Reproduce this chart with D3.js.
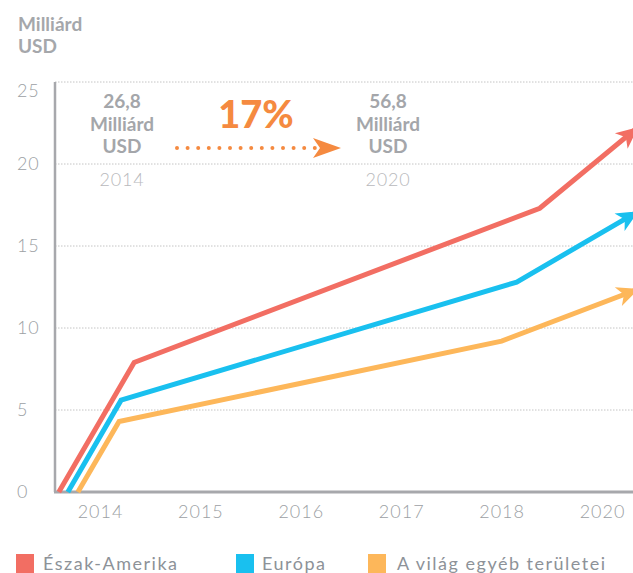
<!DOCTYPE html>
<html>
<head>
<meta charset="utf-8">
<script src="https://cdn.jsdelivr.net/npm/d3@7/dist/d3.min.js"></script>
<style>
  body { margin: 0; background: #fff; }
  text { font-family: Lato, "Open Sans", sans-serif; }
</style>
</head>
<body>
<script>
// tick labels
var yearLabels = ["2014", "2015", "2016", "2017", "2018", "2020"];
var yTicks = [0, 5, 10, 15, 20, 25];

// series: x in tick-index units, y in Milliárd USD
var seriesNames = ["Észak-Amerika", "Európa", "A világ egyéb területei"];
var seriesColors = ["#f26e63", "#19c0ef", "#fdb75a"];
var northAmerica = [[-0.41, 0], [0.34, 7.9], [4.38, 17.3], [5.33, 22.1]];
var europe = [[-0.32, 0], [0.21, 5.6], [4.15, 12.8], [5.33, 17.0]];
var restOfWorld = [[-0.22, 0], [0.19, 4.3], [4.0, 9.2], [5.33, 12.3]];
var allSeries = [northAmerica, europe, restOfWorld];

var width = 633, height = 573;
var svg = d3.select("body").append("svg")
  .attr("width", width)
  .attr("height", height);

var x = d3.scaleLinear().domain([0, 5]).range([100, 602]);
var y = d3.scaleLinear().domain([0, 25]).range([492, 82]);
var axisX = 55;

var gray = "#9c9fa4";

// unit title
svg.append("text").attr("x", 18).attr("y", 31)
  .attr("font-size", 19).attr("font-weight", 700).attr("fill", "#a5a7ab")
  .text("Milliárd");
svg.append("text").attr("x", 18).attr("y", 53)
  .attr("font-size", 19).attr("font-weight", 700).attr("fill", "#a5a7ab")
  .text("USD");

// gridlines
svg.append("g").selectAll("line")
  .data(yTicks.slice(1))
  .enter().append("line")
  .attr("x1", axisX).attr("x2", width)
  .attr("y1", function(d) { return y(d); })
  .attr("y2", function(d) { return y(d); })
  .attr("stroke", "#c4c4c4")
  .attr("stroke-width", 1)
  .attr("stroke-dasharray", "1.5 1.5");

// y axis
var yAxis = svg.append("g")
  .attr("transform", "translate(" + axisX + ",0)")
  .call(d3.axisLeft(y).tickValues(yTicks).tickSize(0).tickPadding(0));
yAxis.select(".domain").remove();
yAxis.selectAll("text")
  .attr("x", -38)
  .attr("text-anchor", "start")
  .attr("font-size", 18)
  .attr("font-weight", 300)
  .attr("letter-spacing", 0.8)
  .attr("fill", gray)
  .style("font-family", "Lato, sans-serif");
// top label sits a little below its gridline
yAxis.selectAll(".tick").filter(function(d) { return d === 25; })
  .select("text").attr("y", 9);
svg.append("line")
  .attr("x1", axisX).attr("x2", axisX)
  .attr("y1", y(25)).attr("y2", y(0))
  .attr("stroke", "#a7a8ac").attr("stroke-width", 2.5);

// x axis
var xAxis = svg.append("g")
  .attr("transform", "translate(0," + y(0) + ")")
  .call(d3.axisBottom(x).tickValues(d3.range(yearLabels.length))
    .tickFormat(function(d) { return yearLabels[d]; })
    .tickSize(0).tickPadding(13));
xAxis.select(".domain").remove();
xAxis.selectAll("text")
  .attr("font-size", 18)
  .attr("font-weight", 300)
  .attr("fill", gray)
  .attr("letter-spacing", 1)
  .style("font-family", "Lato, sans-serif");
svg.append("line")
  .attr("x1", axisX - 1).attr("x2", width)
  .attr("y1", y(0)).attr("y2", y(0))
  .attr("stroke", "#a7a8ac").attr("stroke-width", 3);

// arrow markers
var defs = svg.append("defs");
seriesColors.forEach(function(c, i) {
  defs.append("marker")
    .attr("id", "arrow" + i)
    .attr("viewBox", "-22 -12 26 24")
    .attr("refX", -2).attr("refY", 0)
    .attr("markerUnits", "userSpaceOnUse")
    .attr("markerWidth", 26).attr("markerHeight", 24)
    .attr("orient", "auto")
    .append("path")
    .attr("d", "M2,0 L-20,-10 L-14,0 L-20,10 Z")
    .attr("fill", c);
});

var line = d3.line()
  .x(function(d) { return x(d[0]); })
  .y(function(d) { return y(d[1]); });

svg.append("g").selectAll("path")
  .data(allSeries)
  .enter().append("path")
  .attr("d", line)
  .attr("fill", "none")
  .attr("stroke", function(d, i) { return seriesColors[i]; })
  .attr("stroke-width", 5)
  .attr("stroke-linejoin", "miter")
  .attr("marker-end", function(d, i) { return "url(#arrow" + i + ")"; });

// growth annotation
var annoGray = "#a4a6aa";
function valueBlock(cx, lines, yearText) {
  lines.forEach(function(t, i) {
    svg.append("text")
      .attr("x", cx).attr("y", 108 + i * 22.5)
      .attr("text-anchor", "middle")
      .attr("font-size", 19).attr("font-weight", 700)
      .attr("fill", annoGray)
      .text(t);
  });
  svg.append("text")
    .attr("x", cx).attr("y", 186)
    .attr("text-anchor", "middle")
    .attr("font-size", 18).attr("font-weight", 300)
    .attr("letter-spacing", 0.8)
    .attr("fill", "#b8b9bc")
    .text(yearText);
}
valueBlock(122, ["26,8", "Milliárd", "USD"], "2014");
valueBlock(388, ["56,8", "Milliárd", "USD"], "2020");

svg.append("text")
  .attr("x", 256).attr("y", 128)
  .attr("text-anchor", "middle")
  .attr("font-size", 38).attr("font-weight", 900)
  .attr("fill", "#f58a40")
  .text("17%");

svg.append("line")
  .attr("x1", 177).attr("x2", 318)
  .attr("y1", 148).attr("y2", 148)
  .attr("stroke", "#f58a40").attr("stroke-width", 4)
  .attr("stroke-linecap", "round")
  .attr("stroke-dasharray", "0 10.6");
svg.append("path")
  .attr("d", "M341,148 L313,138 L320,148 L313,158 Z")
  .attr("fill", "#f58a40");

// legend
var legend = svg.append("g").selectAll("g")
  .data(seriesNames)
  .enter().append("g")
  .attr("transform", function(d, i) { return "translate(" + [16, 236, 368][i] + ",554)"; });
legend.append("rect")
  .attr("width", 18).attr("height", 19)
  .attr("fill", function(d, i) { return seriesColors[i]; });
legend.append("text")
  .attr("x", function(d, i) { return [27, 26, 29][i]; })
  .attr("y", 16)
  .attr("font-size", 18).attr("font-weight", 400)
  .attr("letter-spacing", 1.5)
  .attr("fill", "#8d9298")
  .text(function(d) { return d; });
</script>
</body>
</html>
